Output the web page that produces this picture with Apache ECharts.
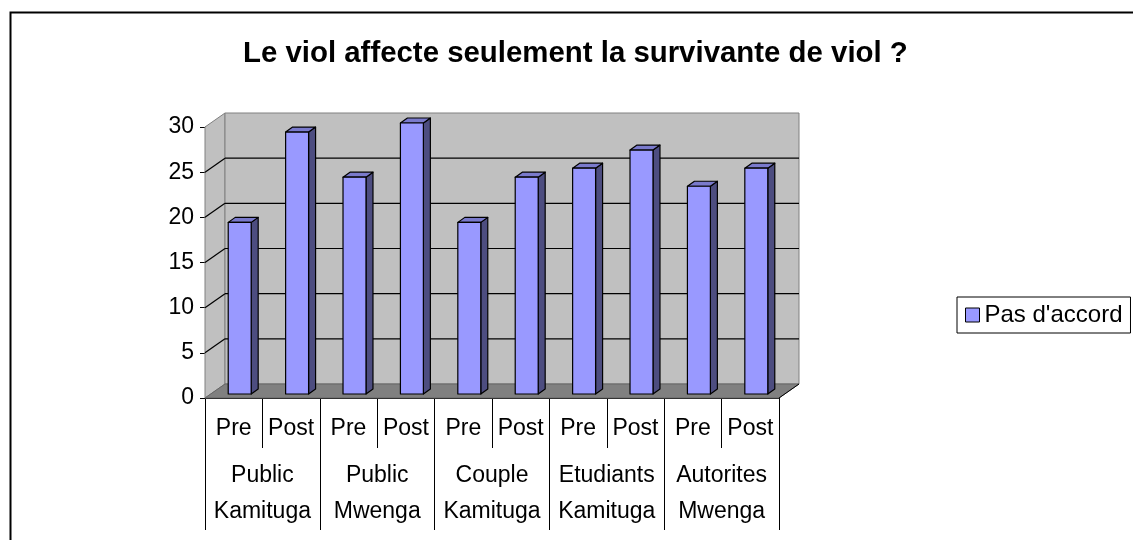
<!DOCTYPE html>
<html>
<head>
<meta charset="utf-8">
<script src="https://cdn.jsdelivr.net/npm/echarts@6/dist/echarts.min.js"></script>
<style>
  html, body { margin: 0; padding: 0; background: #fff; }
  #chart { width: 1133px; height: 540px; }
</style>
</head>
<body>
<div id="chart"></div>
<script>
const phases = ['Pre', 'Post', 'Pre', 'Post', 'Pre', 'Post', 'Pre', 'Post', 'Pre', 'Post'];
const groups = ['Public\nKamituga', 'Public\nMwenga', 'Couple\nKamituga', 'Etudiants\nKamituga', 'Autorites\nMwenga'];
const pasDaccord = [19, 29, 24, 30, 19, 24, 25, 27, 23, 25];
const wallTicks = [5, 10, 15, 20, 25];

const FONT = "'Liberation Sans', Arial, sans-serif";
const DEPTH = [20, -14];     // back wall offset from the front plane
const BAR_SHIFT = [6, -4];   // bars sit a little behind the front plane
const BAR_DEPTH = [7, -5];   // bar thickness

const chart = echarts.init(document.getElementById('chart'));

// side wall, back wall, floor
function renderWalls(params, api) {
  const w = api.size([1, 0])[0];
  const p0 = api.coord([0, 0]);
  const p1 = api.coord([phases.length - 1, 30]);
  const x0 = p0[0] - w / 2, x1 = p1[0] + w / 2;
  const yb = p0[1], yt = p1[1];
  const dx = DEPTH[0], dy = DEPTH[1];
  return {
    type: 'group',
    children: [
      { type: 'polygon', shape: { points: [[x0, yt], [x0 + dx, yt + dy], [x0 + dx, yb + dy], [x0, yb]] },
        style: { fill: '#c0c0c0', stroke: '#808080', lineWidth: 1 } },
      { type: 'rect', shape: { x: x0 + dx, y: yt + dy, width: x1 - x0, height: yb - yt },
        style: { fill: '#c0c0c0', stroke: '#808080', lineWidth: 1 } },
      { type: 'polygon', shape: { points: [[x0, yb], [x0 + dx, yb + dy], [x1 + dx, yb + dy], [x1, yb]] },
        style: { fill: '#808080', stroke: '#666', lineWidth: 1 } },
      { type: 'line', shape: { x1: x1, y1: yb, x2: x1 + dx, y2: yb + dy },
        style: { stroke: '#000', lineWidth: 1 } }
    ]
  };
}

// grid lines on side wall + back wall
function renderWallLines(params, api) {
  const v = api.value(1);
  const w = api.size([1, 0])[0];
  const p = api.coord([0, v]);
  const q = api.coord([phases.length - 1, v]);
  const x0 = p[0] - w / 2, x1 = q[0] + w / 2, y = p[1];
  const dx = DEPTH[0], dy = DEPTH[1];
  return {
    type: 'group',
    children: [
      { type: 'line', shape: { x1: x0, y1: y, x2: x0 + dx, y2: y + dy }, style: { stroke: '#000', lineWidth: 1.2 } },
      { type: 'line', shape: { x1: x0 + dx, y1: y + dy, x2: x1 + dx, y2: y + dy }, style: { stroke: '#000', lineWidth: 1.2 } }
    ]
  };
}

function renderBar(params, api) {
  const i = api.value(0), v = api.value(1);
  const base = api.coord([i, 0]);
  const top = api.coord([i, v]);
  const bw = api.size([1, 0])[0] * 0.4;
  const xl = base[0] - bw / 2 + BAR_SHIFT[0], xr = xl + bw;
  const yb = base[1] + BAR_SHIFT[1], yt = top[1] + BAR_SHIFT[1];
  const dx = BAR_DEPTH[0], dy = BAR_DEPTH[1];
  const edge = { stroke: '#000', lineWidth: 1.2, lineJoin: 'round' };
  return {
    type: 'group',
    children: [
      { type: 'polygon', shape: { points: [[xr, yt], [xr + dx, yt + dy], [xr + dx, yb + dy], [xr, yb]] },
        style: Object.assign({ fill: '#4d4d80' }, edge) },
      { type: 'polygon', shape: { points: [[xl, yt], [xl + dx, yt + dy], [xr + dx, yt + dy], [xr, yt]] },
        style: Object.assign({ fill: '#7a7acc' }, edge) },
      { type: 'rect', shape: { x: xl, y: yt, width: bw, height: yb - yt },
        style: Object.assign({ fill: '#9999ff' }, edge) }
    ]
  };
}

chart.setOption({
  animation: false,
  backgroundColor: '#fff',
  textStyle: { fontFamily: FONT },
  title: {
    text: 'Le viol affecte seulement la survivante de viol ?',
    left: 238,
    top: 34,
    textStyle: { fontFamily: FONT, fontSize: 29.4, fontWeight: 'bold', color: '#000' }
  },
  graphic: [{
    type: 'rect', left: 8, top: 10, z: 100,
    shape: { width: 1140, height: 560 },
    style: { fill: 'none', stroke: '#000', lineWidth: 2 }
  }],
  legend: {
    data: ["Pas d'accord"],
    left: 957,
    top: 297,
    padding: [6, 8, 6, 8],
    borderColor: '#000',
    borderWidth: 1,
    icon: 'rect',
    itemWidth: 14,
    itemHeight: 14,
    itemStyle: { color: '#9999ff', borderColor: '#000', borderWidth: 1 },
    textStyle: { fontFamily: FONT, fontSize: 24, color: '#000' }
  },
  grid: { left: 205, top: 127, width: 574, height: 271 },
  xAxis: [{
    type: 'category',
    data: phases,
    position: 'bottom',
    axisLine: { show: true, lineStyle: { color: '#000', width: 1 } },
    axisTick: { show: true, length: 50, interval: 0, lineStyle: { color: '#000' } },
    axisLabel: { interval: 0, margin: 19, fontSize: 23, color: '#000', fontFamily: FONT }
  }, {
    type: 'category',
    data: groups,
    position: 'bottom',
    axisLine: { show: false },
    axisTick: { show: true, length: 132, interval: 0, lineStyle: { color: '#000' } },
    axisLabel: { interval: 0, margin: 60, fontSize: 23, lineHeight: 36, color: '#000', fontFamily: FONT }
  }],
  yAxis: {
    type: 'value',
    min: 0,
    max: 30,
    interval: 5,
    axisLine: { show: true, lineStyle: { color: '#000', width: 1 } },
    axisTick: { show: true, length: 5, lineStyle: { color: '#000' } },
    axisLabel: { margin: 11, fontSize: 23, color: '#000', fontFamily: FONT },
    splitLine: { show: false }
  },
  series: [{
    name: 'walls',
    type: 'custom',
    silent: true,
    z: 1,
    renderItem: renderWalls,
    data: [[0, 0]]
  }, {
    name: 'wall lines',
    type: 'custom',
    silent: true,
    z: 2,
    renderItem: renderWallLines,
    data: wallTicks.map(v => [0, v])
  }, {
    name: "Pas d'accord",
    type: 'custom',
    z: 3,
    itemStyle: { color: '#9999ff', borderColor: '#000', borderWidth: 1 },
    renderItem: renderBar,
    encode: { x: 0, y: 1 },
    data: pasDaccord.map((v, i) => [i, v])
  }]
});
</script>
</body>
</html>
